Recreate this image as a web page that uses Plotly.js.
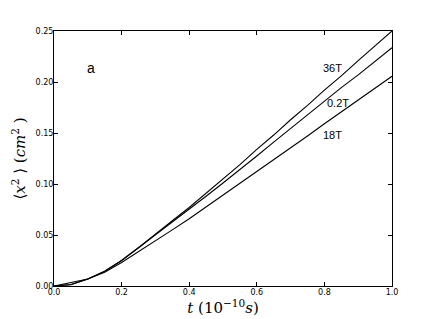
<!DOCTYPE html>
<html>
<head>
<meta charset="utf-8">
<script src="https://cdn.plot.ly/plotly-3.0.1.min.js"></script>
<style>
  html, body { margin: 0; padding: 0; background: #fff; }
  #plot { width: 436px; height: 319px; }
</style>
</head>
<body>
<div id="plot"></div>
<script>
const t = [0, 0.05, 0.1, 0.15, 0.2, 0.25, 0.3, 0.35, 0.4, 0.45, 0.5,
           0.55, 0.6, 0.65, 0.7, 0.75, 0.8, 0.85, 0.9, 0.95, 1.0];

const x2_36T = [0, 0.0034, 0.0068, 0.0145, 0.025, 0.0375, 0.051, 0.064, 0.077, 0.091, 0.105,
                0.119, 0.134, 0.148, 0.163, 0.177, 0.192, 0.206, 0.221, 0.2355, 0.25];
const x2_02T = [0, 0.0015, 0.0068, 0.0145, 0.025, 0.0375, 0.050, 0.0625, 0.075, 0.088, 0.101,
                0.114, 0.1275, 0.141, 0.1545, 0.168, 0.181, 0.1945, 0.207, 0.2205, 0.2336];
const x2_18T = [0, 0.0012, 0.0068, 0.0135, 0.023, 0.0335, 0.044, 0.055, 0.066, 0.0775, 0.089,
                0.1005, 0.112, 0.124, 0.1355, 0.147, 0.159, 0.1705, 0.182, 0.194, 0.2056];

const seriesNames = ['36T', '0.2T', '18T'];
const seriesValues = [x2_36T, x2_02T, x2_18T];

const traces = seriesValues.map((ys, i) => ({
  x: t,
  y: ys,
  type: 'scatter',
  mode: 'lines',
  name: seriesNames[i],
  line: { color: '#000', width: 1.1 },
  hoverinfo: 'skip'
}));

const labelFont = { family: 'Liberation Sans, Arial, sans-serif', size: 11, color: '#000' };

// curve labels, placed like the original
const annotations = [
  { x: 0.109, y: 0.2137, text: 'a', font: { ...labelFont, size: 14 } },
  { x: 0.825, y: 0.2137, text: '36T', font: labelFont },
  { x: 0.840, y: 0.179, text: '0.2T', font: labelFont },
  { x: 0.825, y: 0.148, text: '18T', font: labelFont }
].map(a => ({ ...a, xref: 'x', yref: 'y', showarrow: false }));

const axisCommon = {
  showline: true,
  linecolor: '#000',
  linewidth: 1,
  mirror: 'ticks',
  ticks: 'inside',
  ticklen: 4,
  tickwidth: 1,
  tickcolor: '#000',
  showgrid: false,
  zeroline: false,
  tickfont: { family: 'DejaVu Sans, sans-serif', size: 8, color: '#000' }
};

const layout = {
  width: 436,
  height: 319,
  margin: { l: 54, r: 44, t: 31, b: 33 },
  paper_bgcolor: '#fff',
  plot_bgcolor: '#fff',
  showlegend: false,
  xaxis: {
    ...axisCommon,
    range: [0, 1],
    dtick: 0.2,
    tickformat: '.1f',
    ticklabelstandoff: -2,
    title: {
      text: '<i>t</i> (10<sup>\u221210</sup><i>s</i>)',
      font: { family: 'DejaVu Serif, serif', size: 15, color: '#000' },
      standoff: 3
    }
  },
  yaxis: {
    ...axisCommon,
    range: [0, 0.25],
    dtick: 0.05,
    tickformat: '.2f',
    ticklabelstandoff: -2,
    title: {
      text: '\u27e8<i>x</i><sup>2</sup> \u27e9 (<i>cm</i><sup>2</sup> )',
      font: { family: 'DejaVu Serif, serif', size: 15, color: '#000' },
      standoff: 6
    }
  },
  annotations: annotations
};

Plotly.newPlot('plot', traces, layout, { staticPlot: true, displayModeBar: false });
</script>
</body>
</html>
